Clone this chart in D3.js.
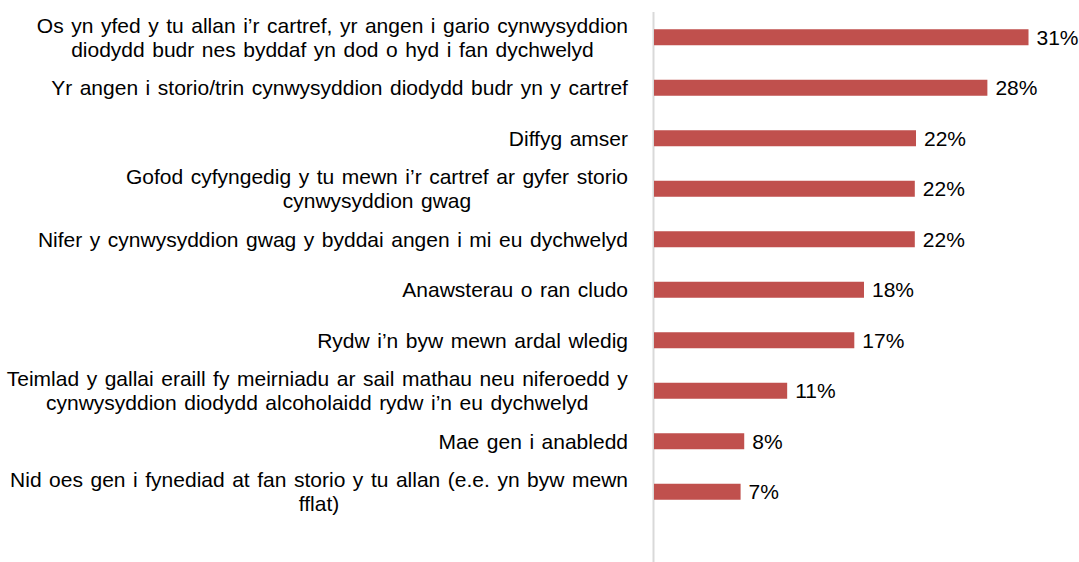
<!DOCTYPE html>
<html>
<head>
<meta charset="utf-8">
<script src="https://cdn.jsdelivr.net/npm/d3@7"></script>
<style>
  html, body { margin: 0; padding: 0; background: #fff; }
  svg { display: block; }
  text { font-family: "Liberation Sans", Arial, sans-serif; fill: #000; }
</style>
</head>
<body>
<svg id="chart" width="1079" height="562"></svg>
<script>
const categories = [
  ["Os yn yfed y tu allan i’r cartref, yr angen i gario cynwysyddion", "diodydd budr nes byddaf yn dod o hyd i fan dychwelyd"],
  ["Yr angen i storio/trin cynwysyddion diodydd budr yn y cartref"],
  ["Diffyg amser"],
  ["Gofod cyfyngedig y tu mewn i’r cartref ar gyfer storio", "cynwysyddion gwag"],
  ["Nifer y cynwysyddion gwag y byddai angen i mi eu dychwelyd"],
  ["Anawsterau o ran cludo"],
  ["Rydw i’n byw mewn ardal wledig"],
  ["Teimlad y gallai eraill fy meirniadu ar sail mathau neu niferoedd y", "cynwysyddion diodydd alcoholaidd rydw i’n eu dychwelyd"],
  ["Mae gen i anabledd"],
  ["Nid oes gen i fynediad at fan storio y tu allan (e.e. yn byw mewn", "fflat)"]
];
// underlying (unrounded) shares
const values = [31, 27.6, 21.7, 21.6, 21.6, 17.4, 16.6, 11.05, 7.5, 7.2];
const valueLabels = ["31%", "28%", "22%", "22%", "22%", "18%", "17%", "11%", "8%", "7%"];

const svg = d3.select("#chart");
const axisX = 653.5;
const labelRight = 628;
const barH = 16;
const fontSize = 21;
const lineGap = 24;

const idx = d3.range(categories.length);
const x = d3.scaleLinear().domain([0, 35]).range([axisX, axisX + 35 * 12.097]);
const y = d3.scalePoint().domain(idx).range([12, 517]).padding(0.5);

// axis line
svg.append("line")
  .attr("x1", axisX).attr("x2", axisX)
  .attr("y1", 12).attr("y2", 562)
  .attr("stroke", "#d9d9d9").attr("stroke-width", 2);

// bars
svg.selectAll("rect.bar").data(idx).join("rect")
  .attr("class", "bar")
  .attr("x", x(0) + 0.5)
  .attr("y", i => y(i) - barH / 2)
  .attr("width", i => x(values[i]) - x(0) - 0.5)
  .attr("height", barH)
  .attr("fill", "#c0504d");

// value labels
svg.selectAll("text.val").data(idx).join("text")
  .attr("class", "val")
  .attr("x", i => x(values[i]) + 8)
  .attr("y", i => y(i))
  .attr("dy", "0.35em")
  .attr("font-size", fontSize)
  .text(i => valueLabels[i]);

// category labels
const lab = svg.selectAll("text.cat").data(idx).join("text")
  .attr("class", "cat")
  .attr("font-size", fontSize)
  .attr("word-spacing", 1.7)
  .attr("text-anchor", "middle");

lab.each(function(i) {
  const t = d3.select(this);
  const lines = categories[i];
  const n = lines.length;
  lines.forEach((ln, k) => {
    t.append("tspan")
      .attr("x", 0)
      .attr("y", y(i) + (k - (n - 1) / 2) * lineGap)
      .attr("dy", "0.35em")
      .text(ln);
  });
  let maxW = 0;
  t.selectAll("tspan").each(function() {
    maxW = Math.max(maxW, this.getBBox().width);
  });
  const cx = labelRight - maxW / 2;
  t.selectAll("tspan").attr("x", cx);
});
</script>
</body>
</html>
